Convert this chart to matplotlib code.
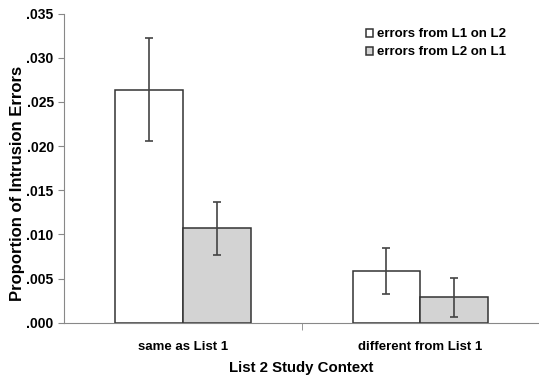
import numpy as np
import matplotlib.pyplot as plt

plt.rcParams['font.family'] = ['Liberation Sans', 'DejaVu Sans']

# Datos
categorias = ['same as List 1', 'different from List 1']
series = ['errors from L1 on L2', 'errors from L2 on L1']
l1_on_l2 = [0.0264, 0.0059]
l1_on_l2_err = [0.0058, 0.0026]
l2_on_l1 = [0.0107, 0.0029]
l2_on_l1_err = [0.0030, 0.0022]
yticks = [0.000, 0.005, 0.010, 0.015, 0.020, 0.025, 0.030, 0.035]

fig = plt.figure(figsize=(5.39, 3.75), dpi=100)
ax = fig.add_axes([0.119, 0.139, 0.881, 0.825])

x = np.arange(len(categorias))
w = 0.285
edge = '#333333'
err_kw = dict(ecolor='#444444', elinewidth=1.2, capsize=3, capthick=1.2)

ax.bar(x - w / 2, l1_on_l2, w, yerr=l1_on_l2_err, color='white',
       edgecolor=edge, linewidth=1.1, label=series[0], error_kw=err_kw)
ax.bar(x + w / 2, l2_on_l1, w, yerr=l2_on_l1_err, color='#d3d3d3',
       edgecolor=edge, linewidth=1.1, label=series[1], error_kw=err_kw)

ax.set_xlim(-0.5, 1.5)
ax.set_ylim(0, 0.035)
ax.set_yticks(yticks)
ax.set_yticklabels(['.{:03d}'.format(int(round(v * 1000))) for v in yticks],
                   fontweight='bold')
ax.set_xticks(x)
ax.set_xticklabels(categorias, fontweight='bold')
ax.set_xticks([0.5], minor=True)
ax.tick_params(axis='x', which='major', length=0, pad=13, labelsize=9.5)
ax.tick_params(axis='x', which='minor', length=5, color='#888888')
ax.tick_params(axis='y', length=4, color='#888888', labelsize=10, pad=3.5)

for s in ['top', 'right']:
    ax.spines[s].set_visible(False)
for s in ['left', 'bottom']:
    ax.spines[s].set_color('#888888')

ax.set_xlabel('List 2 Study Context', fontsize=10.8, fontweight='bold', labelpad=6)
fig.text(18 / 539, 1 - 183 / 375, 'Proportion of Intrusion Errors', fontsize=12,
         fontweight='bold', rotation=90, ha='center', va='center')

leg = ax.legend(loc='upper right', bbox_to_anchor=(0.955, 0.99), frameon=False,
                fontsize=9.5, handlelength=0.55, handleheight=0.55,
                handletextpad=0.3, labelspacing=0.45)
for t in leg.get_texts():
    t.set_fontweight('bold')

fig.savefig('out.png', dpi=100)
